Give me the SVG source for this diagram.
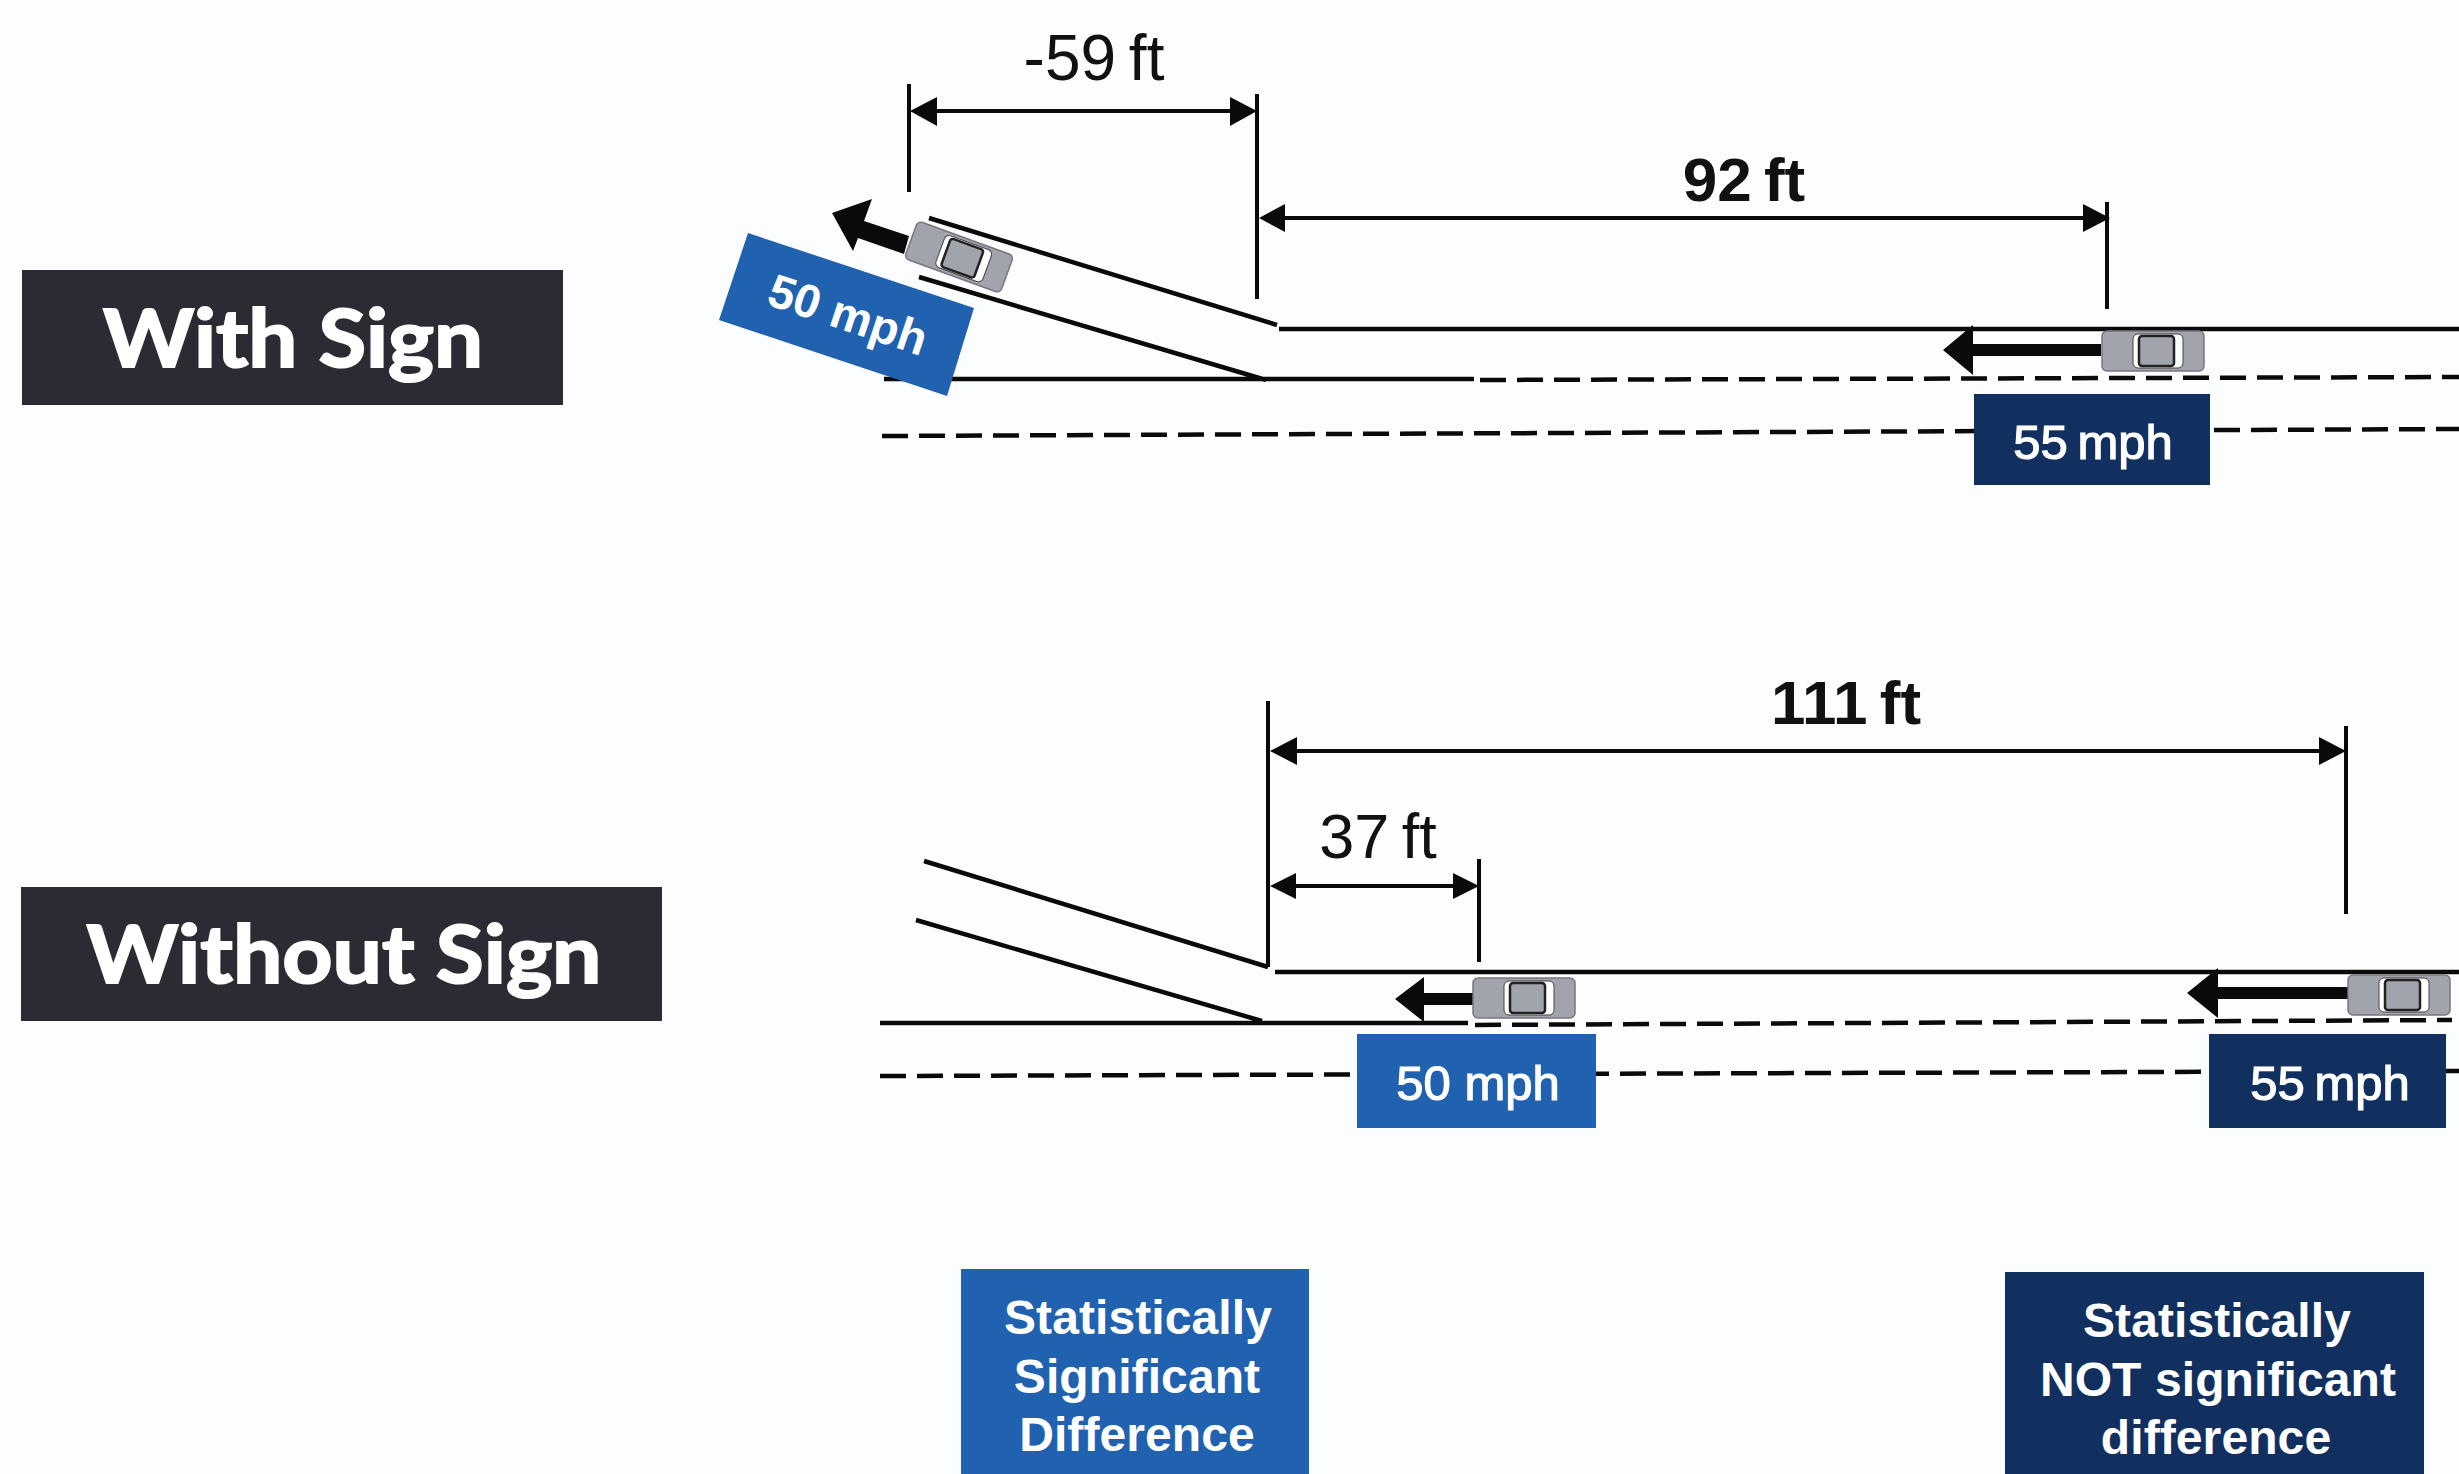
<svg xmlns="http://www.w3.org/2000/svg" width="2459" height="1474" viewBox="0 0 2459 1474">
<style>
.ln{stroke:#0a0a0a;fill:none;stroke-width:4.5}
.tk{stroke:#0a0a0a;fill:none;stroke-width:4}
.dim{stroke:#0a0a0a;fill:none;stroke-width:4}
.ds{stroke:#0a0a0a;fill:none;stroke-width:4.5;stroke-dasharray:26 11}
.hd{fill:#0a0a0a}
.t{font-family:"Liberation Sans",Arial,sans-serif;fill:#111;text-anchor:middle;word-spacing:-5px}
.w{font-family:"Liberation Sans",Arial,sans-serif;fill:#fff;text-anchor:middle}
.s{font-size:49px;stroke:#fff;stroke-width:1.2}
.b{font-size:48px;font-weight:bold;letter-spacing:.1px}
.title{font-family:Lato,"Open Sans",sans-serif;font-weight:bold;fill:#fff;stroke:#fff;stroke-width:2;font-size:80px;text-anchor:middle}
</style>
<defs>
<g id="car">
<rect x="0" y="0" width="102" height="40" rx="5" fill="#a1a3ad" stroke="#77777f" stroke-width="1.5"/>
<rect x="31" y="3" width="50" height="34" rx="5" fill="#fff" stroke="#444" stroke-width="1"/>
<rect x="37" y="5" width="35" height="30" rx="3" fill="#a1a3ad" stroke="#222" stroke-width="2.5"/>
</g>
</defs>
<rect width="2459" height="1474" fill="#fcfdfe"/>

<g id="connectors">
<path class="ln" d="M929 218L1277 325M919 277L1266 380M1279 329H2459M884 379H1474"/>
<path class="ds" d="M1480 380L2459 377"/>
<path class="ds" d="M882 436L2459 429"/>
<path class="tk" d="M909 84V192M1257 94V299M2107 202V309"/>
<path class="dim" d="M930 111H1236M1280 218H2090"/>
<path class="hd" d="M910 111L937 97V126ZM1257 111L1230 97V126ZM1259 218L1285 204V232ZM2110 218L2083 204V232Z"/>

<path class="ln" d="M924 861L1268 967M916 920L1262 1021M1275 972H2459M880 1023H1468"/>
<path class="ds" d="M1475 1025L2452 1020"/>
<path class="ds" d="M880 1076L2459 1071"/>
<path class="tk" d="M1268 701V967M2346 726V914M1479 859V962"/>
<path class="dim" d="M1290 751H2325M1290 886H1458"/>
<path class="hd" d="M1270 751L1297 737V765ZM2346 751L2319 737V765ZM1270 886L1296 873V899ZM1479 886L1453 873V899Z"/>
</g>

<g id="label-with-sign">
<rect x="22" y="270" width="541" height="135" fill="#2a2b33"/>
<text class="title" x="293" y="367" textLength="380" lengthAdjust="spacingAndGlyphs">With Sign</text>
</g>
<g id="label-without-sign">
<rect x="21" y="887" width="641" height="134" fill="#2a2b33"/>
<text class="title" x="344" y="983" textLength="515" lengthAdjust="spacingAndGlyphs">Without Sign</text>
</g>

<g id="dim-labels">
<text class="t" x="1094" y="80" font-size="64">-59 ft</text>
<text class="t" x="1744" y="201" font-size="62" font-weight="bold">92 ft</text>
<text class="t" x="1846" y="724" font-size="62" font-weight="bold">111 ft</text>
<text class="t" x="1378" y="858" font-size="63">37 ft</text>
</g>

<g id="car-ramp">
<path class="hd" d="M832 213L872 199L864 221L909 236L904 254L858 238L853 251Z"/>
<use href="#car" transform="translate(959 257) rotate(20) translate(-51 -20)"/>
</g>
<g id="speed-ramp">
<polygon points="748,233 974,308 947,396 719,320" fill="#2062b0"/>
<text class="w s" style="font-weight:bold;font-size:47px;stroke-width:0" transform="translate(843 330) rotate(18.5)">50 mph</text>
</g>

<g id="car-top-55">
<path class="hd" d="M1943 350L1973 325V344H2101V356H1973V375Z"/>
<use href="#car" transform="translate(2102 331)"/>
</g>
<g id="speed-top-55">
<rect x="1974" y="394" width="236" height="91" fill="#12305f"/>
<text class="w s" x="2093" y="459" style="word-spacing:-4px">55 mph</text>
</g>

<g id="car-bottom-50">
<path class="hd" d="M1395 999L1424 977V993H1473V1005H1424V1022Z"/>
<use href="#car" transform="translate(1473 978)"/>
</g>
<g id="speed-bottom-50">
<rect x="1357" y="1034" width="239" height="94" fill="#2062b0"/>
<text class="w s" x="1478" y="1100">50 mph</text>
</g>

<g id="car-bottom-55">
<path class="hd" d="M2187 993L2218 968V987H2348V999H2218V1018Z"/>
<use href="#car" transform="translate(2348 975)"/>
</g>
<g id="speed-bottom-55">
<rect x="2209" y="1034" width="237" height="94" fill="#12305f"/>
<text class="w s" x="2330" y="1100" style="word-spacing:-4px">55 mph</text>
</g>

<g id="note-significant">
<rect x="961" y="1269" width="348" height="205" fill="#2062b0"/>
<text class="w b" x="1138" y="1334">Statistically</text>
<text class="w b" x="1137" y="1393">Significant</text>
<text class="w b" x="1137" y="1451">Difference</text>
</g>
<g id="note-not-significant">
<rect x="2005" y="1272" width="419" height="202" fill="#12305f"/>
<text class="w b" x="2217" y="1337">Statistically</text>
<text class="w b" x="2218" y="1396">NOT significant</text>
<text class="w b" x="2216" y="1454">difference</text>
</g>
</svg>
